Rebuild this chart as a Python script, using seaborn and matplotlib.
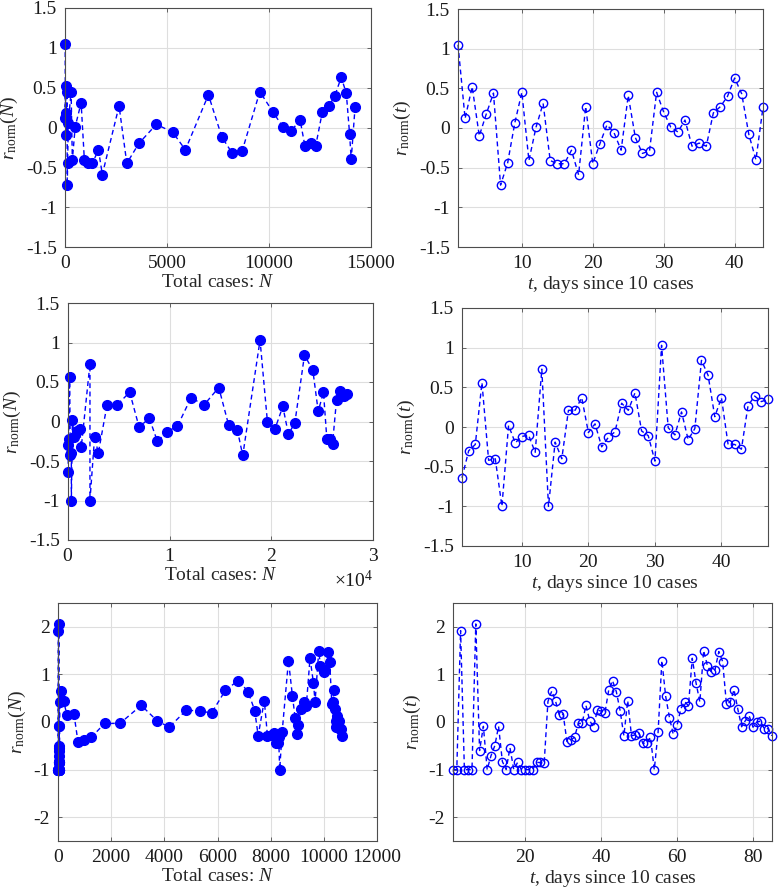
import numpy as np
import pandas as pd
import matplotlib
matplotlib.use("Agg")
import matplotlib.pyplot as plt
from matplotlib.ticker import FuncFormatter, ScalarFormatter
import seaborn as sns

# ---------------- data ----------------
# Row 1
r1 = [1.05, 0.12, 0.52, -0.10, 0.18, 0.44, -0.72, -0.44, 0.06, 0.45,
      -0.41, 0.01, 0.31, -0.41, -0.45, -0.45, -0.28, -0.59, 0.27, -0.45,
      -0.20, 0.04, -0.06, -0.28, 0.41, -0.12, -0.32, -0.29, 0.45, 0.20,
      0.01, -0.05, 0.10, -0.23, -0.19, -0.23, 0.19, 0.27, 0.40, 0.63,
      0.43, -0.08, -0.40, 0.26]
N1 = [10, 15, 25, 35, 55, 100, 110, 130, 160, 300,
      360, 500, 790, 950, 1130, 1340, 1640, 1830, 2650, 3030,
      3620, 4480, 5280, 5900, 7030, 7690, 8190, 8690, 9550, 10180,
      10670, 11080, 11520, 11760, 12060, 12290, 12610, 12940, 13230, 13540,
      13790, 13950, 14030, 14220]

# Row 2
r2 = [-0.64, -0.30, -0.22, 0.56, -0.42, -0.40, -1.00, 0.02, -0.20, -0.12,
      -0.10, -0.32, 0.73, -1.00, -0.19, -0.40, 0.21, 0.21, 0.37, -0.07,
      0.04, -0.25, -0.13, -0.06, 0.30, 0.21, 0.43, -0.05, -0.11, -0.43,
      1.03, -0.01, -0.10, 0.19, -0.16, -0.02, 0.84, 0.65, 0.13, 0.37,
      -0.22, -0.22, -0.28, 0.27, 0.39, 0.32, 0.35]
N2 = [20, 30, 60, 160, 230, 330, 330, 430, 620, 850,
      1150, 1310, 2160, 2160, 2620, 2980, 3840, 4820, 6070, 6990,
      8000, 8790, 9740, 10760, 12100, 13380, 14830, 15810, 16660, 17190,
      18890, 19620, 20340, 21130, 21680, 22310, 23260, 24080, 24610, 25130,
      25460, 25790, 26020, 26410, 26770, 27130, 27490]

# Row 3
r3 = [-1.00, -1.00, 1.92, -1.00, -1.00, -1.00, 2.06, -0.60, -0.09, -1.00,
      -0.71, -0.50, -0.09, -0.83, -1.00, -0.54, -1.00, -0.85, -1.00, -1.00,
      -1.00, -1.00, -0.85, -0.85, -0.87, 0.43, 0.65, 0.44, 0.14, 0.17,
      -0.41, -0.38, -0.32, -0.03, -0.03, 0.35, 0.03, -0.11, 0.25, 0.23,
      0.19, 0.67, 0.87, 0.64, 0.24, -0.29, 0.45, -0.29, -0.27, -0.24,
      -0.45, -0.45, -0.32, -1.00, -0.22, 1.29, 0.54, 0.09, -0.26, -0.07,
      0.28, 0.43, 0.34, 1.34, 0.82, 0.42, 1.50, 1.18, 1.05, 1.10,
      1.48, 1.27, 0.38, 0.42, 0.68, 0.27, -0.10, 0.03, 0.13, -0.11,
      0.00, 0.02, -0.15, -0.14, -0.29]
N3 = [10, 10, 16, 16, 16, 16, 26, 28, 31, 31,
      33, 36, 40, 42, 42, 45, 45, 47, 47, 47,
      47, 47, 49, 51, 53, 70, 110, 210, 340, 600,
      750, 970, 1260, 1750, 2330, 3130, 3720, 4180, 4830, 5340,
      5780, 6300, 6780, 7150, 7400, 7530, 7760, 7880, 8060, 8140,
      8200, 8260, 8300, 8340, 8430, 8670, 8820, 8920, 8980, 9040,
      9140, 9270, 9340, 9480, 9610, 9670, 9810, 9870, 9990, 10060,
      10160, 10220, 10300, 10340, 10390, 10420, 10440, 10470, 10500, 10510,
      10550, 10580, 10620, 10650, 10690]

rows = [(N1, r1), (N2, r2), (N3, r3)]

# ---------------- style ----------------
sns.set_theme(style="whitegrid")
plt.rcParams.update({
    "font.family": ["Liberation Serif", "DejaVu Serif"],
    "mathtext.fontset": "custom",
    "mathtext.rm": "Liberation Serif",
    "mathtext.it": "Liberation Serif:italic",
    "mathtext.bf": "Liberation Serif:bold",
    "axes.unicode_minus": False,
    "font.size": 14,
})

W, H = 780, 891
fig = plt.figure(figsize=(W / 100, H / 100), dpi=100)
fig.patch.set_facecolor("white")

# axes boxes in pixel coords: (left, top, right, bottom)
boxes = [
    [(65, 8, 371, 247), (458, 9, 763, 247)],
    [(68, 303, 373, 540), (462, 308, 768, 546)],
    [(58, 603, 377, 841), (453, 603, 772, 841)],
]

blue = "#0000ff"
fmt_g = FuncFormatter(lambda v, p: ("%g" % v))


def style_ax(ax):
    ax.set_facecolor("white")
    ax.grid(True, color="#dedede", linewidth=0.8)
    for s in ax.spines.values():
        s.set_visible(True)
        s.set_color("#4d4d4d")
        s.set_linewidth(0.8)
    ax.tick_params(direction="in", length=3, width=0.6, color="#4d4d4d",
                   labelsize=14, labelcolor="#1a1a1a",
                   top=True, right=True, bottom=True, left=True, pad=6)
    ax.set_axisbelow(True)


for i, (Nv, rv) in enumerate(rows):
    t = list(range(1, len(rv) + 1))
    df = pd.DataFrame({"N": Nv, "t": t, "r": rv})
    (l1, t1, r1p, b1), (l2, t2, r2p, b2) = boxes[i]
    axL = fig.add_axes([l1 / W, 1 - b1 / H, (r1p - l1) / W, (b1 - t1) / H])
    axR = fig.add_axes([l2 / W, 1 - b2 / H, (r2p - l2) / W, (b2 - t2) / H])
    for ax in (axL, axR):
        style_ax(ax)

    sns.lineplot(data=df, x="N", y="r", ax=axL, sort=False, estimator=None,
                 color=blue, linewidth=1.0, linestyle=(0, (3.5, 2.5)),
                 marker="o", markersize=7, markerfacecolor=blue,
                 markeredgecolor=blue, markeredgewidth=1.0, clip_on=False)
    sns.lineplot(data=df, x="t", y="r", ax=axR, sort=False, estimator=None,
                 color=blue, linewidth=1.0, linestyle=(0, (3.5, 2.5)),
                 marker="o", markersize=6, markerfacecolor="none",
                 markeredgecolor=blue, markeredgewidth=1.0, clip_on=False)

    axL.set_ylabel(r"$r_{\mathrm{norm}}(N)$", fontsize=14, labelpad=4)
    axR.set_ylabel(r"$r_{\mathrm{norm}}(t)$", fontsize=14, labelpad=4)
    axL.set_xlabel(r"Total cases: $N$", fontsize=14, labelpad=1)
    axR.set_xlabel(r"$t$, days since 10 cases", fontsize=14, labelpad=1)

    axR.set_xlim(1, len(rv))
    if i < 2:
        for ax in (axL, axR):
            ax.set_ylim(-1.5, 1.5)
            ax.set_yticks(np.arange(-1.5, 1.51, 0.5))
            ax.yaxis.set_major_formatter(fmt_g)
        axR.set_xticks([10, 20, 30, 40])
    else:
        for ax in (axL, axR):
            ax.set_ylim(-2.5, 2.5)
            ax.set_yticks([-2, -1, 0, 1, 2])
            ax.yaxis.set_major_formatter(fmt_g)
        axR.set_xticks([20, 40, 60, 80])

    if i == 0:
        axL.set_xlim(0, 15000)
        axL.set_xticks([0, 5000, 10000, 15000])
        axL.xaxis.set_major_formatter(fmt_g)
    elif i == 1:
        axL.set_xlim(0, 30000)
        axL.set_xticks([0, 10000, 20000, 30000])
        sf = ScalarFormatter(useMathText=True)
        sf.set_powerlimits((0, 0))
        axL.xaxis.set_major_formatter(sf)
        axL.xaxis.get_offset_text().set_fontsize(14)
    else:
        axL.set_xlim(0, 12000)
        axL.set_xticks(np.arange(0, 12001, 2000))
        axL.xaxis.set_major_formatter(fmt_g)
    axR.xaxis.set_major_formatter(fmt_g)

fig.savefig("out.png", dpi=100)
